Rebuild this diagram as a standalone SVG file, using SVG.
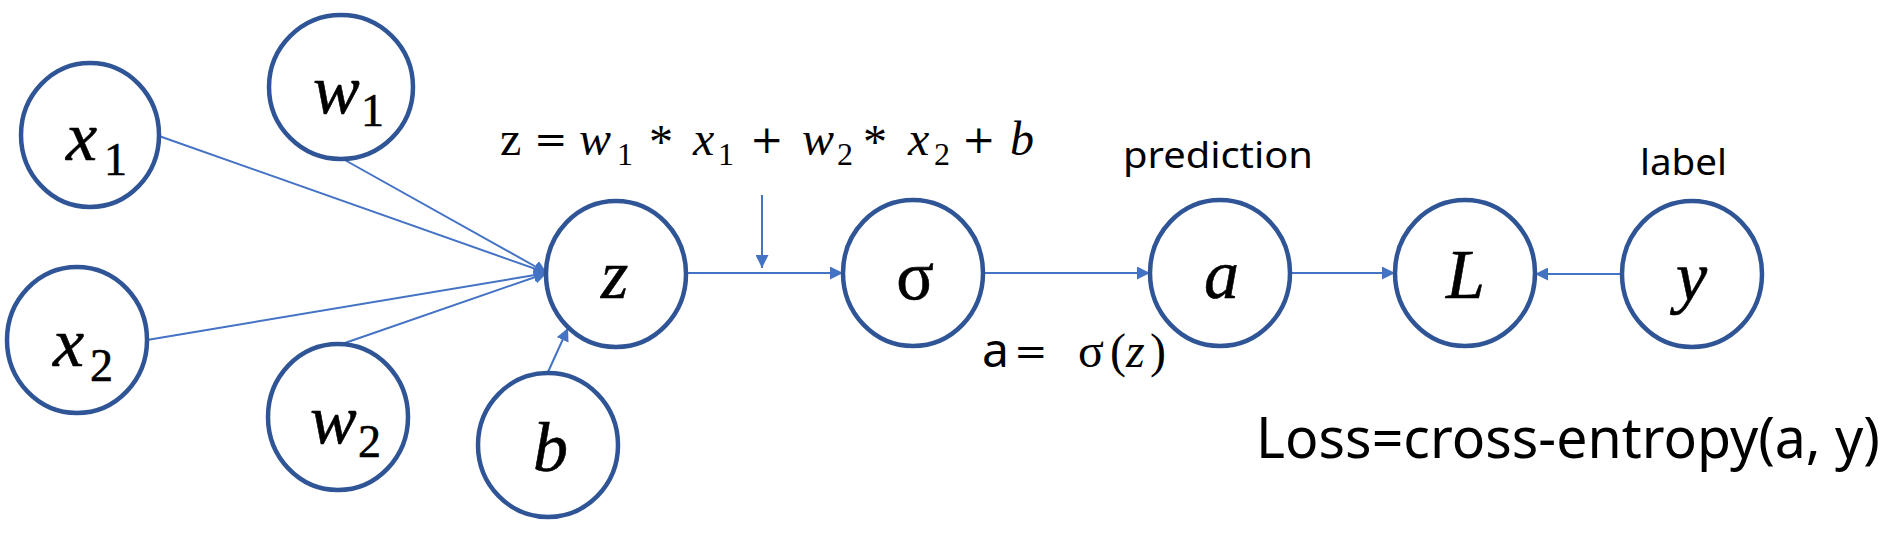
<svg xmlns="http://www.w3.org/2000/svg" width="1899" height="537" viewBox="0 0 1899 537">
<style>
.node{fill:#FFFFFF;stroke:#2F5597;stroke-width:4.5}
.edge{stroke:#4472C4;stroke-width:2;fill:none}
.m{font-family:"Liberation Serif","DejaVu Serif",serif;font-style:italic;fill:#000;stroke:#000;stroke-width:0.6}
.big{font-size:70px}
.sub{font-size:46px;font-style:normal}
.up{font-style:normal}
.f{font-family:"Liberation Serif","DejaVu Serif",serif;font-size:48px;fill:#000}
.op{font-family:"DejaVu Serif","Liberation Serif",serif;font-size:40px;font-style:normal}
.s{font-family:"Noto Sans","Open Sans","Liberation Sans",sans-serif;fill:#000}
</style>
<defs>
<marker id="ah" markerUnits="userSpaceOnUse" markerWidth="13" markerHeight="13" refX="13" refY="6.5" orient="auto">
<path d="M0,0 L13,6.5 L0,13 z" fill="#4472C4"/>
</marker>
</defs>
<g id="connectors">
<line class="edge" x1="159" y1="136" x2="547" y2="273" marker-end="url(#ah)"/>
<line class="edge" x1="343" y1="159" x2="547" y2="273" marker-end="url(#ah)"/>
<line class="edge" x1="147" y1="340" x2="547" y2="273" marker-end="url(#ah)"/>
<line class="edge" x1="342" y1="344" x2="547" y2="273" marker-end="url(#ah)"/>
<line class="edge" x1="548" y1="372" x2="568" y2="328" marker-end="url(#ah)"/>
<line class="edge" x1="686" y1="273" x2="843" y2="273" marker-end="url(#ah)"/>
<line class="edge" x1="762" y1="195" x2="762" y2="268" marker-end="url(#ah)"/>
<line class="edge" x1="983" y1="273" x2="1150" y2="273" marker-end="url(#ah)"/>
<line class="edge" x1="1290" y1="273" x2="1395" y2="273" marker-end="url(#ah)"/>
<line class="edge" x1="1622" y1="274" x2="1535" y2="274" marker-end="url(#ah)"/>
</g>
<g id="node-x1">
<ellipse class="node" cx="90" cy="135" rx="69" ry="72"/>
<text class="m big" x="66" y="160">x</text><text class="m sub" x="104" y="175">1</text>
</g>
<g id="node-w1">
<ellipse class="node" cx="341" cy="87" rx="72" ry="72"/>
<text class="m big" x="313" y="113">w</text><text class="m sub" x="361" y="126">1</text>
</g>
<g id="node-x2">
<ellipse class="node" cx="77" cy="340" rx="70" ry="73"/>
<text class="m big" x="53" y="366">x</text><text class="m sub" x="90" y="381">2</text>
</g>
<g id="node-w2">
<ellipse class="node" cx="338" cy="417" rx="70" ry="73"/>
<text class="m big" x="310" y="443">w</text><text class="m sub" x="358" y="457">2</text>
</g>
<g id="node-z">
<ellipse class="node" cx="616" cy="274" rx="70" ry="73"/>
<text class="m big" x="601" y="298">z</text>
</g>
<g id="node-b">
<ellipse class="node" cx="548" cy="445" rx="70" ry="72"/>
<text class="m big" x="533" y="471">b</text>
</g>
<g id="node-sigma">
<ellipse class="node" cx="913" cy="273" rx="70" ry="73"/>
<text class="m big up" x="915" y="299" text-anchor="middle" font-size="78">σ</text>
</g>
<g id="node-a">
<ellipse class="node" cx="1220" cy="273" rx="70" ry="73"/>
<text class="m big" x="1204" y="298">a</text>
</g>
<g id="node-L">
<ellipse class="node" cx="1465" cy="273" rx="70" ry="73"/>
<text class="m big" x="1446" y="298">L</text>
</g>
<g id="node-y">
<ellipse class="node" cx="1692" cy="274" rx="70" ry="73"/>
<text class="m big" x="1676" y="300">y</text>
</g>
<g id="labels">
<text class="f"><tspan x="500" y="155">z</tspan><tspan class="op" x="534" y="153">=</tspan><tspan x="579" y="155" font-style="italic">w</tspan><tspan x="617" y="165" font-size="32">1</tspan><tspan x="649" y="158">*</tspan><tspan x="693" y="155" font-style="italic">x</tspan><tspan x="718" y="165" font-size="32">1</tspan><tspan class="op" x="750" y="153">+</tspan><tspan x="802" y="155" font-style="italic">w</tspan><tspan x="837" y="165" font-size="32">2</tspan><tspan x="863" y="158">*</tspan><tspan x="908" y="155" font-style="italic">x</tspan><tspan x="934" y="165" font-size="32">2</tspan><tspan class="op" x="962" y="153">+</tspan><tspan x="1010" y="155" font-style="italic">b</tspan></text>
<text class="s" x="1123" y="168" font-size="36" textLength="190" lengthAdjust="spacingAndGlyphs">prediction</text>
<text class="s" x="1640" y="175" font-size="36" textLength="87" lengthAdjust="spacingAndGlyphs">label</text>
<text class="f" font-size="40"><tspan x="982" y="367" font-family="Noto Sans, sans-serif">a</tspan><tspan class="op" x="1014" y="365">=</tspan><tspan x="1078" y="367">σ</tspan><tspan x="1110" y="367">(</tspan><tspan x="1126" y="367" font-style="italic">z</tspan><tspan x="1150" y="367">)</tspan></text>
<text class="s" x="1256" y="458" font-size="56" textLength="624" lengthAdjust="spacingAndGlyphs">Loss=cross-entropy(a, y)</text>
</g>
</svg>
